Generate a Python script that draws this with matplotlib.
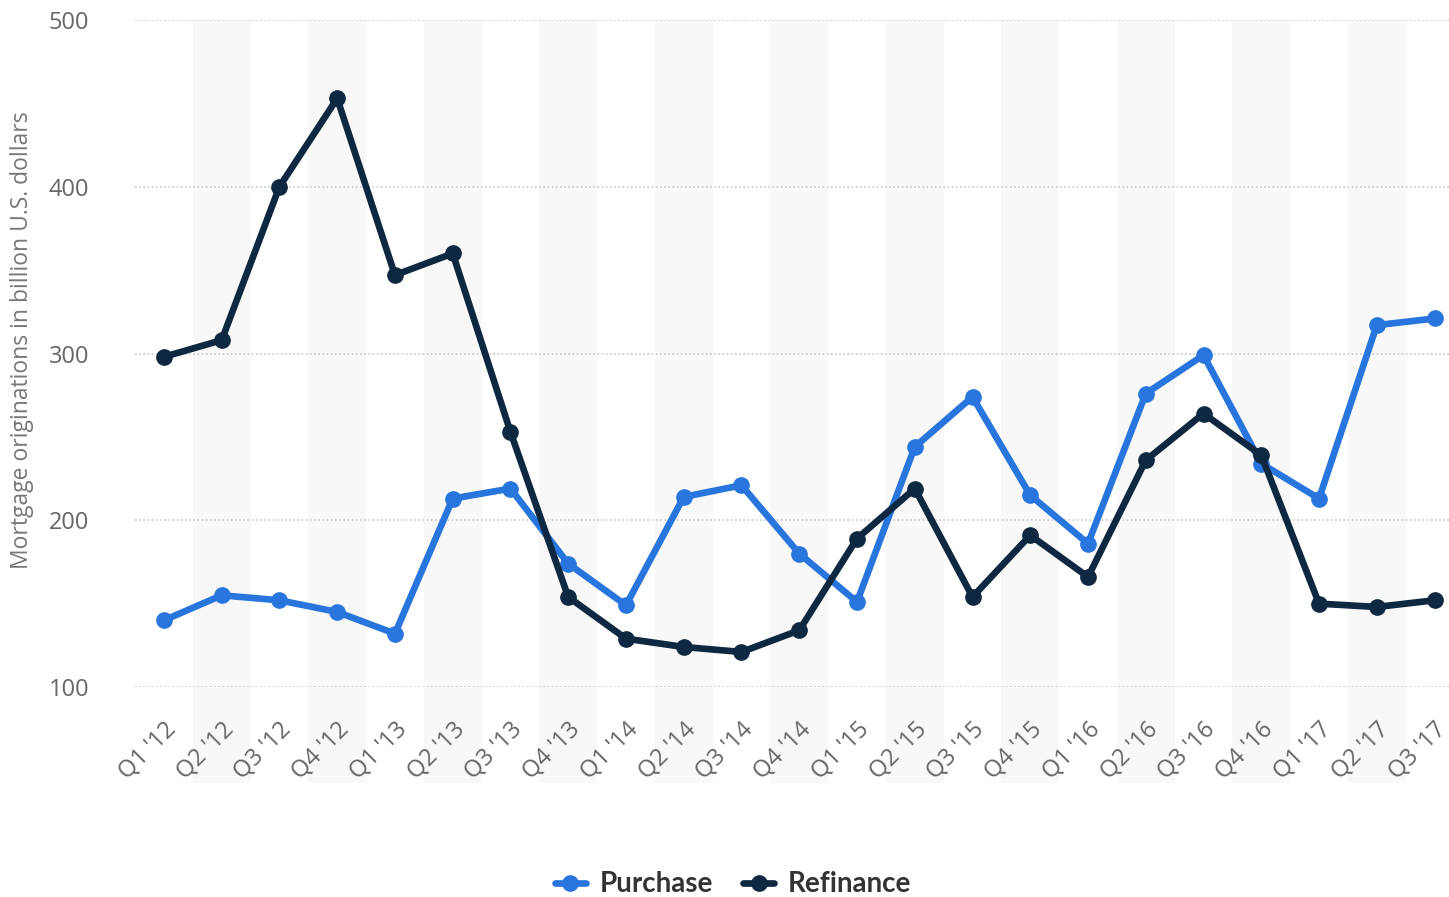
import matplotlib
matplotlib.use("Agg")
import matplotlib.pyplot as plt

quarters = ["Q1 '12", "Q2 '12", "Q3 '12", "Q4 '12",
            "Q1 '13", "Q2 '13", "Q3 '13", "Q4 '13",
            "Q1 '14", "Q2 '14", "Q3 '14", "Q4 '14",
            "Q1 '15", "Q2 '15", "Q3 '15", "Q4 '15",
            "Q1 '16", "Q2 '16", "Q3 '16", "Q4 '16",
            "Q1 '17", "Q2 '17", "Q3 '17"]
purchase = [140, 155, 152, 145, 132, 213, 219, 174, 149, 214, 221, 180,
            151, 244, 274, 215, 186, 276, 299, 234, 213, 317, 321]
refinance = [298, 308, 400, 453, 347, 360, 253, 154, 129, 124, 121, 134,
             189, 219, 154, 191, 166, 236, 264, 239, 150, 148, 152]
y_ticks = [100, 200, 300, 400, 500]

plt.rcParams['font.family'] = ['Open Sans', 'DejaVu Sans']

fig = plt.figure(figsize=(14.49, 8.97), dpi=100)
ax = fig.add_axes([0.0932, 0.2341, 0.9068, 0.7436])

x = list(range(len(quarters)))

# alternating background bands (very faint)
for i in x:
    if i % 2 == 1:
        ax.axvspan(i - 0.5, i + 0.5, ymin=-0.144, ymax=1, color="#f8f8f8",
                   zorder=0, lw=0, clip_on=False)

ax.plot(x, purchase, color="#2876dd", lw=4.8, marker='o', ms=11,
        label="Purchase", zorder=3, solid_capstyle='round')
ax.plot(x, refinance, color="#0e2841", lw=4.8, marker='o', ms=11,
        label="Refinance", zorder=3, solid_capstyle='round')

ax.set_xlim(-0.5, 22.25)
ax.set_ylim(100, 500)
ax.set_yticks(y_ticks)
ax.set_yticklabels([str(v) for v in y_ticks])
ax.set_xticks(x)
ax.set_xticklabels(quarters, rotation=45, ha='right', rotation_mode='anchor')
ax.tick_params(axis='both', length=0, labelsize=17, labelcolor="#666666")
ax.tick_params(axis='y', pad=33)
ax.tick_params(axis='x', pad=22)

ax.yaxis.grid(True, linestyle=(0, (1, 1.5)), color="#c8c8c8", lw=1.2, zorder=1)
ax.set_axisbelow(True)
for s in ax.spines.values():
    s.set_visible(False)

ax.set_ylabel("Mortgage originations in billion U.S. dollars", fontsize=16.5,
              color="#777777")
ax.yaxis.set_label_coords(-0.077, 0.52)

leg = fig.legend(loc='center', bbox_to_anchor=(0.506, 0.014), ncol=2,
                 frameon=False, handlelength=1.1, handletextpad=0.5,
                 columnspacing=1.1,
                 prop={'family': ['Lato', 'DejaVu Sans'], 'weight': 'bold', 'size': 20})
for t in leg.get_texts():
    t.set_color("#333333")

fig.savefig("out.png", dpi=100)
